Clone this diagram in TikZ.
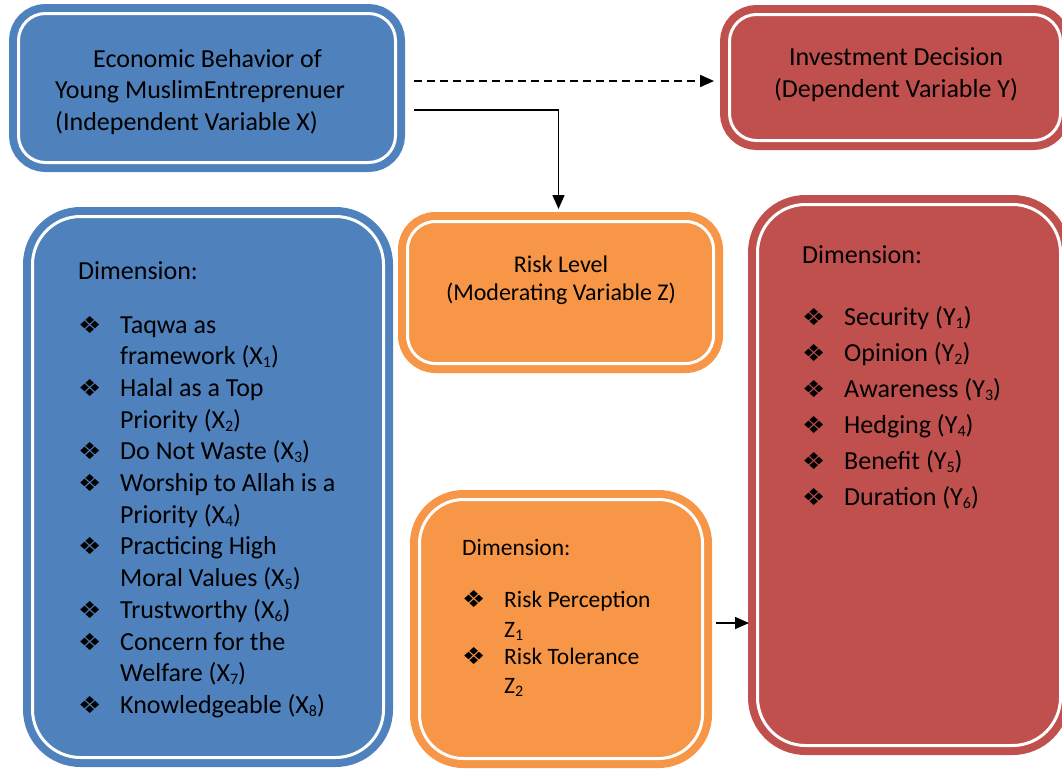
\documentclass[tikz,border=0pt]{standalone}
\usepackage{fontspec}
\setmainfont{Carlito}
\newfontfamily\symfont{DejaVu Sans}
\usetikzlibrary{arrows.meta}
\definecolor{cblue}{HTML}{4F81BD}
\definecolor{cred}{HTML}{C0504D}
\definecolor{corange}{HTML}{F79646}
\newcommand{\subs}[1]{\raisebox{-3pt}{\fontsize{16}{16}\selectfont #1}}
\newcommand{\bul}{{\symfont\fontsize{26}{26}\selectfont\scalebox{1}[0.9]{❖}}}
\begin{document}
\begin{tikzpicture}[x=1pt,y=-1pt,
  box/.style={rectangle, inner sep=0pt, line width=8pt, double=white, double distance=3pt, draw=#1, fill=#1},
  txt/.style={anchor=base west, inner sep=0pt, font=\fontsize{26}{30}\selectfont},
  ctxt/.style={anchor=base, inner sep=0pt, font=\fontsize{26}{30}\selectfont},
  rtxt/.style={anchor=base, inner sep=0pt, font=\fontsize{24}{28}\selectfont},
  otxt/.style={anchor=base west, inner sep=0pt, font=\fontsize{23.5}{28}\selectfont},
  bnode/.style={anchor=base west, inner sep=0pt},
  arr/.style={line width=1.5pt, -{Triangle[length=14pt,width=12pt]}},
  dline/.style={line width=1.8pt, dash pattern=on 8pt off 5pt, -{Triangle[length=14pt,width=12pt]}}]
\useasboundingbox (0,0) rectangle (1062,769);
\clip (0,0) rectangle (1062,769);
\fill[white] (0,0) rectangle (1062,769);
% boxes
\node[box=cblue, rounded corners=27pt, minimum width=377pt, minimum height=149pt] (xb) at (207,88) {};
\node[box=cred, rounded corners=27pt, minimum width=331pt, minimum height=126pt] (iv) at (895,77.5) {};
\node[box=corange, rounded corners=28pt, minimum width=306pt, minimum height=142pt] (rl) at (560.5,292.5) {};
\node[box=cblue, rounded corners=48pt, minimum width=351pt, minimum height=541pt] (xd) at (208,487) {};
\node[box=corange, rounded corners=44pt, minimum width=283pt, minimum height=259pt] (zd) at (561,629) {};
\node[box=cred, rounded corners=48pt, minimum width=303pt, minimum height=541pt] (yd) at (909,475) {};
% connectors
\coordinate (ds) at ([xshift=14.5pt,yshift=7pt]xb.east);
\draw[dline, shorten >=11.5pt] (ds) -- (ds -| iv.west);
\coordinate (es) at ([xshift=14.5pt,yshift=-22pt]xb.east);
\draw[arr, shorten >=8.5pt] (es) -| ([xshift=-2pt]rl.north);
\coordinate (bs) at ([xshift=9.5pt,yshift=6pt]zd.east);
\draw[arr, shorten >=4.5pt] (bs) -- (bs -| yd.west);
% texts top
\node[txt] (t1) at (93,67) {Economic Behavior of};
\node[txt] (t2) at (55,98) {Young MuslimEntreprenuer};
\node[txt] (t3) at (55,130) {(Independent Variable X)};
\node[ctxt] (t4) at (896,65) {Investment Decision};
\node[ctxt] (t5) at (896,97) {(Dependent Variable Y)};
\node[rtxt] (t6) at (561,272) {Risk Level};
\node[rtxt] (t7) at (561,300) {(Moderating Variable Z)};
% left list
\node[txt] (xdim) at (78,279) {Dimension:};
\foreach \i/\t in {0/Taqwa as, 1/framework (X\subs{1}), 2/Halal as a Top, 3/Priority (X\subs{2}), 4/Do Not Waste (X\subs{3}), 5/Worship to Allah is a, 6/Priority (X\subs{4}), 7/Practicing High, 8/Moral Values (X\subs{5}), 9/Trustworthy (X\subs{6}), 10/Concern for the, 11/Welfare (X\subs{7}), 12/Knowledgeable (X\subs{8})}
  \node[txt] (xl\i) at (120,333+31.7*\i) {\t};
\foreach \i in {0,2,4,5,7,9,10,12}
  \node[bnode] (xbul\i) at (78,333+31.7*\i) {\bul};
% right list
\node[txt] (ydim) at (802,263) {Dimension:};
\foreach \i/\t in {0/Security (Y\subs{1}), 1/Opinion (Y\subs{2}), 2/Awareness (Y\subs{3}), 3/Hedging (Y\subs{4}), 4/Benefit (Y\subs{5}), 5/Duration (Y\subs{6})}
  {\node[txt] (yl\i) at (844,325+36*\i) {\t};
   \node[bnode] (ybul\i) at (802,325+36*\i) {\bul};}
% orange list
\node[otxt] (zdim) at (462,555) {Dimension:};
\node[bnode] (zb1) at (462,607) {\bul};
\node[otxt] (zl1) at (504,607) {Risk Perception};
\node[otxt] (zl2) at (504,637) {Z\subs{1}};
\node[bnode] (zb2) at (462,664) {\bul};
\node[otxt] (zl3) at (504,664) {Risk Tolerance};
\node[otxt] (zl4) at (504,693) {Z\subs{2}};
\end{tikzpicture}
\end{document}
